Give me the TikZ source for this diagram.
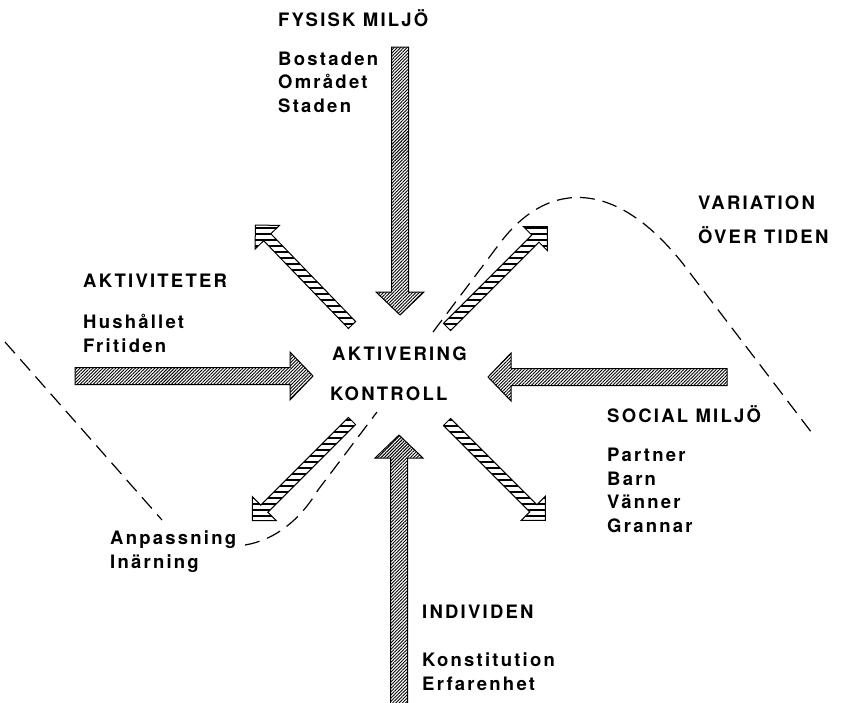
\documentclass[tikz,border=0pt]{standalone}
\usepackage{fontspec}
\setmainfont{TeX Gyre Heros}[LetterSpace=12]
\usetikzlibrary{patterns.meta}

\newcommand{\diagfont}{\fontsize{18.5}{23.5}\selectfont\bfseries}

\tikzset{
  pics/bigarrow/.style={code={
    \draw[pic actions] (0,-8.5) -- ({#1-23},-8.5) -- ({#1-23},-24) -- (#1,0)
      -- ({#1-23},24) -- ({#1-23},8.5) -- (0,8.5) -- cycle;}},
  pics/smallarrow/.style={code={
    \draw[pic actions] (0,-5) -- ({#1-17},-5) -- ({#1-17},-17) -- (#1,0)
      -- ({#1-17},17) -- ({#1-17},5) -- (0,5) -- cycle;}},
}

\begin{document}
\begin{tikzpicture}[x=1pt, y=-1pt,
    headtext/.style={anchor=base west, inner sep=0pt, font=\diagfont},
    listtext/.style={anchor=base west, inner sep=0pt, align=left, font=\diagfont},
    bighatch/.style={draw, line width=1pt, pattern={Lines[angle=45, distance=2.3pt, line width=0.9pt]}},
    smallhatch/.style={draw, line width=1pt, pattern={Lines[angle=0, distance=6pt, line width=2pt]}},
    wave/.style={line width=1.2pt, dash pattern=on 15pt off 8pt}]
    \useasboundingbox[fill=white] (0,0) rectangle (843,702);

    % Variation over time (dashed wave)
    \draw[wave] (5,342) -- (162,520);
    \draw[wave] (245,545) .. controls (275,540) and (300,520) .. (318,490) -- (377,412);
    \draw[wave] (433,332) -- (500,243) .. controls (549,178) and (620,178) .. (690,273) -- (815,437);

    % Influences towards the centre
    \pic[bighatch, rotate=-90] (fysarrow) at (400,47) {bigarrow=268};
    \pic[bighatch, rotate=90] (indarrow) at (399,706) {bigarrow=271};
    \pic[bighatch] (aktarrow) at (75,376) {bigarrow=238};
    \pic[bighatch, rotate=180] (socarrow) at (727,377) {bigarrow=239};

    % Outcomes away from the centre
    \pic[smallhatch, rotate=134] (ularrow) at (352,325) {smallarrow=139};
    \pic[smallhatch, rotate=45] (urarrow) at (447,327) {smallarrow=142};
    \pic[smallhatch, rotate=225] (llarrow) at (352,421) {smallarrow=141};
    \pic[smallhatch, rotate=-45] (lrarrow) at (447,422) {smallarrow=139};

    % Centre
    \node[headtext] (aktivering) at (332,360) {AKTIVERING};
    \node[headtext] (kontroll) at (330,400) {KONTROLL};

    % Physical environment (list anchored at its last line)
    \node[headtext] (fysisk) at (278,26) {FYSISK MILJÖ};
    \node[listtext] (fysiskitems) at (278,112) {Bostaden\\Området\\Staden};

    % Activities
    \node[headtext] (aktiviteter) at (83,287) {AKTIVITETER};
    \node[listtext] (aktitems) at (83,352) {Hushållet\\Fritiden};

    % Social environment
    \node[headtext] (social) at (607,422) {SOCIAL MILJÖ};
    \node[listtext] (socitems) at (607,532) {Partner\\Barn\\Vänner\\Grannar};

    % Individual
    \node[headtext] (individen) at (422,618) {INDIVIDEN};
    \node[listtext] (inditems) at (422,690) {Konstitution\\Erfarenhet};

    % Adaptation, variation
    \node[listtext] (anpassning) at (110,568) {Anpassning\\Inärning};
    \node[listtext] (variation) at (698,243) {VARIATION\\[10.5pt]ÖVER TIDEN};
  \end{tikzpicture}
\end{document}
